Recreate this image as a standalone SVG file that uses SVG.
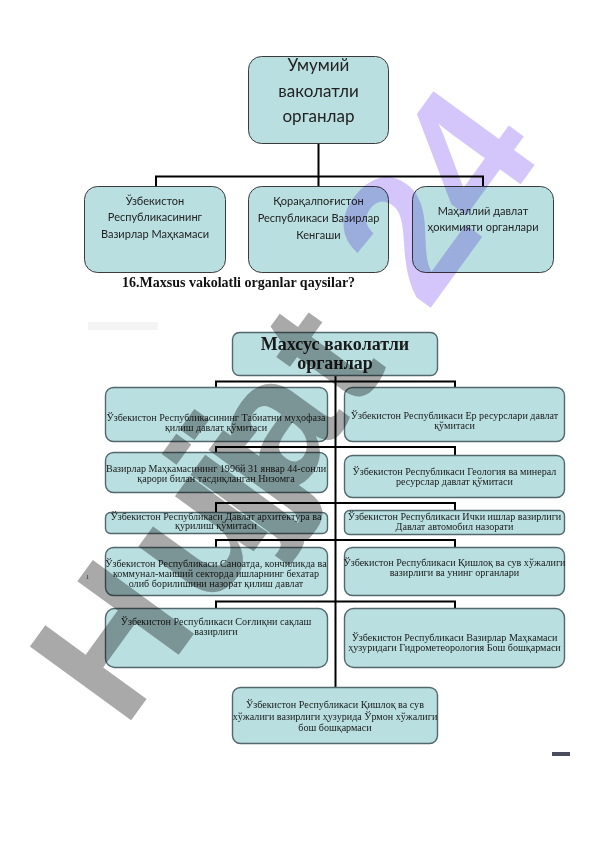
<svg xmlns="http://www.w3.org/2000/svg" width="596" height="842" viewBox="0 0 596 842">
<style>
.tb{fill:#b9dfe1;stroke:#3a3a3a;stroke-width:1}
.lb{fill:#b9dfe1;stroke:#53686c;stroke-width:1.4}
.tt{font-family:Lato,"Noto Sans",sans-serif;font-size:11px;fill:#222;text-anchor:middle}
.tr{font-family:Lato,"Noto Sans",sans-serif;font-size:17px;fill:#222;text-anchor:middle}
.lt{font-family:"Liberation Serif","DejaVu Serif",serif;font-size:10.1px;fill:#1a1a1a;text-anchor:middle}
.con{fill:none;stroke:#000;stroke-width:2}
.wm{font-family:"Liberation Sans",Arial,sans-serif;font-weight:bold;font-size:182px;mix-blend-mode:multiply}
</style>
<rect width="596" height="842" fill="#fff"/>
<g id="connectors">
<path class="con" d="M318.5 144V176.5M156 186V176.5H483V186M318.5 176.5V186"/>
<path class="con" d="M335.5 375V687"/>
<path class="con" d="M216 387V381.5H455V387"/>
<path class="con" d="M216 452V447H455V455"/>
<path class="con" d="M216 512V503H455V510"/>
<path class="con" d="M216 547V540H455V547"/>
<path class="con" d="M216 608V601.5H455V608"/>
</g>
<g id="n_umumiy"><rect class="tb" x="248.5" y="56.5" width="140" height="87" rx="13"/>
<text class="tr" x="318.5" y="71">Умумий</text><text class="tr" x="318.5" y="97">ваколатли</text><text class="tr" x="318.5" y="122">органлар</text></g>
<g id="n_vm"><rect class="tb" x="84.5" y="186.5" width="141" height="86" rx="13"/>
<text class="tt" x="155" y="204.5">Ўзбекистон</text><text class="tt" x="155" y="221">Республикасининг</text><text class="tt" x="155" y="238">Вазирлар Маҳкамаси</text></g>
<g id="n_qq"><rect class="tb" x="248.5" y="186.5" width="140" height="86" rx="13"/>
<text class="tt" x="318.5" y="205">Қорақалпоғистон</text><text class="tt" x="318.5" y="222">Республикаси Вазирлар</text><text class="tt" x="318.5" y="239">Кенгаши</text></g>
<g id="n_mah"><rect class="tb" x="412.5" y="186.5" width="141" height="86" rx="13"/>
<text class="tt" x="483" y="214.5">Маҳаллий давлат</text><text class="tt" x="483" y="230.5">ҳокимияти органлари</text></g>
<text x="122" y="287" font-family="'Liberation Serif',serif" font-weight="bold" font-size="14px" fill="#111">16.Maxsus vakolatli organlar qaysilar?</text>
<rect x="88" y="322" width="70" height="8" fill="#f4f4f4"/>
<g id="n_maxsus"><rect class="lb" x="232.5" y="332.5" width="205" height="43" rx="7"/>
<text x="335" y="349.5" font-family="'Liberation Serif',serif" font-weight="bold" font-size="18px" fill="#1a1a1a" text-anchor="middle">Махсус ваколатли</text>
<text x="335" y="369" font-family="'Liberation Serif',serif" font-weight="bold" font-size="18px" fill="#1a1a1a" text-anchor="middle">органлар</text></g>
<g id="n_l1"><rect class="lb" x="105.5" y="387.5" width="222" height="54" rx="8"/>
<text class="lt" x="216" y="420.5">Ўзбекистон Республикасининг  Табиатни муҳофаза</text><text class="lt" x="216" y="430.5">қилиш давлат қўмитаси</text></g>
<g id="n_l2"><rect class="lb" x="105.5" y="452.5" width="222" height="40" rx="8"/>
<text class="lt" x="216" y="471.5">Вазирлар Маҳкамасининг 1996й 31 январ  44-сонли</text><text class="lt" x="216" y="481.5">қарори билан тасдиқланган Низомга</text></g>
<g id="n_l3"><rect class="lb" x="105.5" y="512.5" width="222" height="21" rx="5"/>
<text class="lt" x="216" y="519.5">Ўзбекистон Республикаси Давлат архитектура ва</text><text class="lt" x="216" y="529">қурилиш қўмитаси</text></g>
<g id="n_l4"><rect class="lb" x="105.5" y="547.5" width="222" height="48" rx="8"/>
<text class="lt" x="216" y="567">Ўзбекистон Республикаси Саноатда, кончиликда  ва</text><text class="lt" x="216" y="577">коммунал-маиший секторда ишларнинг бехатар</text><text class="lt" x="216" y="587">олиб борилишини назорат қилиш давлат</text></g>
<g id="n_l5"><rect class="lb" x="105.5" y="608.5" width="222" height="59" rx="9"/>
<text class="lt" x="216" y="625">Ўзбекистон Республикаси Соғлиқни сақлаш</text><text class="lt" x="216" y="634.5">вазирлиги</text></g>
<g id="n_r1"><rect class="lb" x="344.5" y="387.5" width="220" height="54" rx="8"/>
<text class="lt" x="454.5" y="418.5">Ўзбекистон Республикаси Ер ресурслари давлат</text><text class="lt" x="454.5" y="429">қўмитаси</text></g>
<g id="n_r2"><rect class="lb" x="344.5" y="455.5" width="220" height="42" rx="8"/>
<text class="lt" x="454.5" y="475">Ўзбекистон Республикаси Геология ва минерал</text><text class="lt" x="454.5" y="485">ресурслар давлат қўмитаси</text></g>
<g id="n_r3"><rect class="lb" x="344.5" y="510.5" width="220" height="24" rx="5"/>
<text class="lt" x="454.5" y="520">Ўзбекистон Республикаси Ички ишлар вазирлиги</text><text class="lt" x="454.5" y="530">Давлат автомобил назорати</text></g>
<g id="n_r4"><rect class="lb" x="344.5" y="547.5" width="220" height="48" rx="8"/>
<text class="lt" x="454.5" y="566">Ўзбекистон Республикаси Қишлоқ ва сув хўжалиги</text><text class="lt" x="454.5" y="576">вазирлиги ва унинг органлари</text></g>
<g id="n_r5"><rect class="lb" x="344.5" y="608.5" width="220" height="59" rx="9"/>
<text class="lt" x="454.5" y="641">Ўзбекистон Республикаси Вазирлар Маҳкамаси</text><text class="lt" x="454.5" y="651">ҳузуридаги Гидрометеорология Бош бошқармаси</text></g>
<g id="n_b"><rect class="lb" x="232.5" y="687.5" width="205" height="56" rx="8"/>
<text class="lt" x="335" y="708">Ўзбекистон Республикаси Қишлоқ ва сув</text><text class="lt" x="335" y="719.5">хўжалиги вазирлиги ҳузурида Ўрмон хўжалиги</text><text class="lt" x="335" y="731">бош бошқармаси</text></g>
<text x="86" y="579" font-family="'Liberation Serif',serif" font-size="6px" fill="#333">1</text>
<rect x="552" y="752" width="18" height="4" fill="#4a4b5c"/>
<text class="wm" transform="translate(124,730) rotate(-54)"><tspan fill="#a9a9a9">H</tspan><tspan fill="#a9a9a9" dx="14">u</tspan><tspan fill="#a9a9a9" dx="-24">j</tspan><tspan fill="#a9a9a9" dx="-20">j</tspan><tspan fill="#a9a9a9" dx="-30">a</tspan><tspan fill="#a9a9a9" dx="4">t</tspan><tspan fill="#d4c6fa" dx="66">2</tspan><tspan fill="#d4c6fa" dx="-2">4</tspan></text>
</svg>
